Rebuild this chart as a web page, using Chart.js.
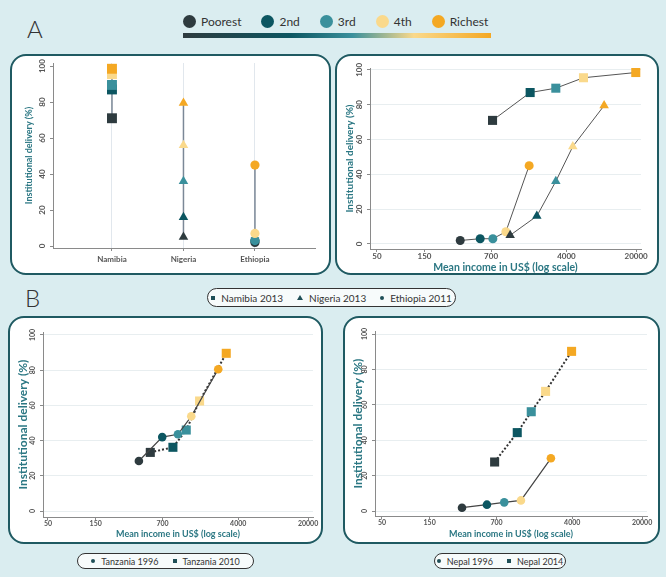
<!DOCTYPE html>
<html>
<head>
<meta charset="utf-8">
<script src="https://cdn.jsdelivr.net/npm/chart.js@4.4.1/dist/chart.umd.min.js"></script>
<style>
  html, body { margin: 0; padding: 0; }
  body { width: 666px; height: 577px; background: #daedf0; position: relative; overflow: hidden; font-family: Lato, "Open Sans", sans-serif; color: #333; }
  .panel { position: absolute; box-sizing: border-box; border: 2px solid #1f5a62; border-radius: 16px; background: #fff; }
  .panel canvas { position: absolute; left: -2px; top: -2px; }
  .letter { position: absolute; font-size: 24px; color: #333; font-weight: 300; line-height: 1; }
  #quintile-legend { position: absolute; left: 183px; top: 14px; display: flex; align-items: center; font-size: 12px; color: #333; white-space: nowrap; }
  #quintile-legend .item { display: flex; align-items: center; margin-right: 20px; }
  #quintile-legend .dot { width: 13px; height: 13px; border-radius: 50%; margin-right: 5px; }
  #gradient-bar { position: absolute; left: 183px; top: 33px; width: 308px; height: 5px;
    background: linear-gradient(to right, #2e3b3f 0%, #0c5661 35%, #3a909c 55%, #fad98b 75%, #f4a823 100%); }
  .pill { position: absolute; box-sizing: border-box; border: 1px solid #333; border-radius: 10px; background: #f7fbfb;
    display: flex; align-items: center; justify-content: center; color: #333; white-space: nowrap; }
  .pill .item { display: flex; align-items: center; margin: 0 7px; white-space: nowrap; }
  .mk { display: inline-block; background: #1f4f57; margin-right: 6px; flex: none; }
  .mk.square { width: 4px; height: 4px; }
  .mk.circle { width: 4px; height: 4px; border-radius: 50%; }
  .mk.triangle { width: 0; height: 0; background: none; border-left: 3px solid transparent; border-right: 3px solid transparent; border-bottom: 5px solid #1f4f57; }
</style>
</head>
<body>
<div class="letter" style="left:27px; top:17px;">A</div>
<div class="letter" style="left:25px; top:286px;">B</div>
<div id="quintile-legend"></div>
<div id="gradient-bar"></div>

<div class="panel" style="left:10px; top:54px; width:321px; height:221px;"><canvas id="chartA1" width="321" height="221"></canvas></div>
<div class="panel" style="left:335px; top:54px; width:324px; height:221px;"><canvas id="chartA2" width="324" height="221"></canvas></div>
<div class="pill" id="legendB" style="left:207px; top:288px; width:249px; height:19px; font-size:10px;"></div>
<div class="panel" style="left:8px; top:316px; width:315px; height:228px;"><canvas id="chartB1" width="315" height="228"></canvas></div>
<div class="panel" style="left:343px; top:316px; width:317px; height:228px;"><canvas id="chartB2" width="317" height="228"></canvas></div>
<div class="pill" id="legendB1" style="left:77px; top:553px; width:177px; height:16px; font-size:9px;"></div>
<div class="pill" id="legendB2" style="left:434px; top:553px; width:132px; height:16px; font-size:9px;"></div>

<script>
// wealth quintiles and their colours
const quintiles = ['Poorest', '2nd', '3rd', '4th', 'Richest'];
const quintileColors = ['#2e3b3f', '#0c5661', '#3a909c', '#fad98b', '#f4a823'];

// panel A: institutional delivery (%) by quintile, and mean income (US$)
const countries = ['Namibia', 'Nigeria', 'Ethiopia'];
const namibiaDelivery = [71, 87, 89.5, 95.5, 98.5];
const nigeriaDelivery = [5, 16, 36, 56, 79.5];
const ethiopiaDelivery = [2, 3, 3, 7, 45];
const namibiaIncome = [724, 1727, 3126, 5925, 19850];
const nigeriaIncome = [1088, 2015, 3126, 4630, 9550];
const ethiopiaIncome = [343, 544, 729, 985, 1688];

// panel B: Tanzania and Nepal, two surveys each
const tanzania1996Income = [406, 695, 998, 1357, 2525];
const tanzania1996Delivery = [28.4, 42, 43.6, 53.8, 80.5];
const tanzania2010Income = [528, 889, 1209, 1643, 3037];
const tanzania2010Delivery = [33.3, 36.2, 46, 62.5, 89.6];
const nepal1996Income = [316, 561, 836, 1228, 2449];
const nepal1996Delivery = [1.9, 3.6, 4.9, 6, 29.8];
const nepal2014Income = [670, 1128, 1557, 2167, 3944];
const nepal2014Delivery = [27.7, 44.3, 56.1, 67.6, 90.2];

const yTicks = [0, 20, 40, 60, 80, 100];
const incomeTicks = [50, 150, 700, 4000, 20000];

const FONT = 'Lato, "Open Sans", sans-serif';
const TICK_COLOR = '#555';
const TITLE_COLOR = '#2b7783';
const AXIS_COLOR = '#8a8a8a';

// --- legends (html) ---
const ql = document.getElementById('quintile-legend');
quintiles.forEach((q, i) => {
  const it = document.createElement('div');
  it.className = 'item';
  it.innerHTML = `<span class="dot" style="background:${quintileColors[i]}"></span><span>${q}</span>`;
  ql.appendChild(it);
});

function pillLegend(id, entries) {
  const el = document.getElementById(id);
  entries.forEach(([shape, text]) => {
    const it = document.createElement('div');
    it.className = 'item';
    it.innerHTML = `<span class="mk ${shape}"></span><span>${text}</span>`;
    el.appendChild(it);
  });
}
pillLegend('legendB', [['square', 'Namibia 2013'], ['triangle', 'Nigeria 2013'], ['circle', 'Ethiopia 2011']]);
pillLegend('legendB1', [['circle', 'Tanzania 1996'], ['square', 'Tanzania 2010']]);
pillLegend('legendB2', [['circle', 'Nepal 1996'], ['square', 'Nepal 2014']]);

// --- chart helpers ---
function yAxis(o) {
  return {
    min: o.min, max: o.max,
    afterBuildTicks: s => { s.ticks = yTicks.map(v => ({ value: v })); },
    afterFit: s => { s.width = o.width; },
    border: { display: true, color: AXIS_COLOR, width: 1 },
    grid: { drawOnChartArea: o.grid, color: '#e8eef0', lineWidth: 1, tickLength: 3, tickColor: AXIS_COLOR },
    ticks: { minRotation: 90, maxRotation: 90, crossAlign: 'center', padding: 1, color: TICK_COLOR,
      font: { family: FONT, size: o.tickSize, weight: 'bold' } },
    title: { display: true, text: 'Institutional delivery (%)', color: TITLE_COLOR, padding: 0,
      font: { family: FONT, size: o.titleSize, weight: 'bold' } }
  };
}

function incomeAxis(o) {
  return {
    type: 'logarithmic', min: o.min, max: o.max,
    afterBuildTicks: s => { s.ticks = incomeTicks.map(v => ({ value: v })); },
    afterFit: s => { s.height = o.height; },
    border: { display: true, color: AXIS_COLOR, width: 1 },
    grid: { drawOnChartArea: false, tickLength: 3, tickColor: AXIS_COLOR },
    ticks: { autoSkip: false, maxRotation: 0, padding: 0, color: TICK_COLOR,
      font: { family: FONT, size: o.tickSize, weight: 'bold' }, callback: v => String(v) },
    title: { display: true, text: 'Mean income in US$ (log scale)', color: TITLE_COLOR, padding: 0,
      font: { family: FONT, size: o.titleSize, weight: 'bold' } }
  };
}

function series(label, xs, ys, style, radius, line) {
  return {
    label,
    data: ys.map((y, i) => ({ x: xs[i], y })),
    pointStyle: style,
    pointRadius: radius,
    pointHoverRadius: radius,
    pointBackgroundColor: quintileColors,
    pointBorderColor: quintileColors,
    pointBorderWidth: 0,
    borderColor: line.color,
    borderWidth: line.width,
    borderDash: line.dash || [],
    tension: 0,
    fill: false,
    clip: false
  };
}

function baseOptions(padding, scales) {
  return {
    responsive: false,
    animation: false,
    events: [],
    layout: { padding },
    plugins: { legend: { display: false }, tooltip: { enabled: false } },
    scales
  };
}

const sameX = n => new Array(5).fill(n);

// A1: delivery by country (vertical range)
const rangeLine = { color: '#7b8897', width: 1.5 };
new Chart(document.getElementById('chartA1'), {
  type: 'line',
  data: {
    datasets: [
      series('Namibia 2013', sameX(0), namibiaDelivery, 'rect', 7, rangeLine),
      series('Nigeria 2013', sameX(1), nigeriaDelivery, 'triangle', 5.5, rangeLine),
      series('Ethiopia 2011', sameX(2), ethiopiaDelivery, 'circle', 4.6, rangeLine)
    ]
  },
  options: baseOptions({ left: 14, right: 16, top: 9, bottom: 0 }, {
    x: {
      type: 'linear', min: -0.825, max: 2.84,
      afterBuildTicks: s => { s.ticks = countries.map((c, i) => ({ value: i })); },
      afterFit: s => { s.height = 27; },
      border: { display: true, color: AXIS_COLOR, width: 1 },
      grid: { drawOnChartArea: true, color: '#e1e7ed', tickLength: 3, tickColor: AXIS_COLOR },
      ticks: { autoSkip: false, maxRotation: 0, padding: 4, color: TICK_COLOR,
        font: { family: FONT, size: 8, weight: 'bold' }, callback: v => countries[v] }
    },
    y: yAxis({ min: -1.1, max: 101.7, width: 29, grid: false, tickSize: 8, titleSize: 9 })
  })
});

// A2: delivery against income
const thinLine = { color: '#555', width: 1 };
new Chart(document.getElementById('chartA2'), {
  type: 'line',
  data: {
    datasets: [
      series('Namibia 2013', namibiaIncome, namibiaDelivery, 'rect', 6.4, thinLine),
      series('Nigeria 2013', nigeriaIncome, nigeriaDelivery, 'triangle', 5.5, thinLine),
      series('Ethiopia 2011', ethiopiaIncome, ethiopiaDelivery, 'circle', 4.5, thinLine)
    ]
  },
  options: baseOptions({ left: 9, right: 18, top: 14, bottom: 1 }, {
    x: incomeAxis({ min: 42.6, max: 22400, height: 25, tickSize: 8, titleSize: 10.5 }),
    y: yAxis({ min: -2.9, max: 101.1, width: 26, grid: true, tickSize: 8, titleSize: 10 })
  })
});

// B1: Tanzania
const solidLine = { color: '#444', width: 1.2 };
const dottedLine = { color: '#333', width: 2, dash: [2, 2] };
new Chart(document.getElementById('chartB1'), {
  type: 'line',
  data: {
    datasets: [
      series('Tanzania 1996', tanzania1996Income, tanzania1996Delivery, 'circle', 4.3, solidLine),
      series('Tanzania 2010', tanzania2010Income, tanzania2010Delivery, 'rect', 6.4, dottedLine)
    ]
  },
  options: baseOptions({ left: 8, right: 10, top: 16, bottom: 5 }, {
    x: incomeAxis({ min: 44.6, max: 22400, height: 22, tickSize: 7, titleSize: 9 }),
    y: yAxis({ min: -3.4, max: 101.7, width: 27, grid: true, tickSize: 7, titleSize: 12 })
  })
});

// B2: Nepal
new Chart(document.getElementById('chartB2'), {
  type: 'line',
  data: {
    datasets: [
      series('Nepal 1996', nepal1996Income, nepal1996Delivery, 'circle', 4.3, solidLine),
      series('Nepal 2014', nepal2014Income, nepal2014Delivery, 'rect', 6.4, dottedLine)
    ]
  },
  options: baseOptions({ left: 8, right: 13, top: 15, bottom: 5 }, {
    x: incomeAxis({ min: 42.6, max: 22400, height: 23, tickSize: 7, titleSize: 9 }),
    y: yAxis({ min: -2.8, max: 101.7, width: 24, grid: true, tickSize: 7, titleSize: 12 })
  })
});
</script>
</body>
</html>
